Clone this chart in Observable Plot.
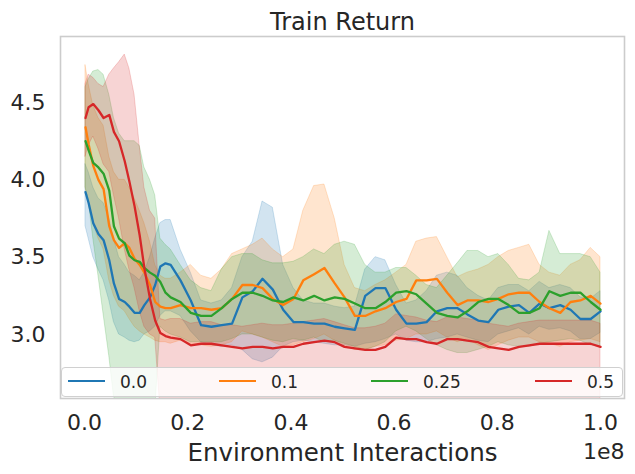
<!DOCTYPE html>
<html><head><meta charset="utf-8">
<script src="https://cdn.jsdelivr.net/npm/d3@7"></script>
<script src="https://cdn.jsdelivr.net/npm/@observablehq/plot@0.6"></script>
<style>
body{margin:0;background:#fff;}
#wrap{position:relative;width:635px;height:474px;font-family:"DejaVu Sans",sans-serif;}
#legend{position:absolute;left:61px;top:367px;width:562px;height:30px;background:rgba(255,255,255,0.8);border:1px solid #d0d0d0;border-radius:4px;box-sizing:border-box;}
.swatch{position:absolute;top:12px;width:37px;height:0;border-top:2.5px solid;}
.lab{position:absolute;top:4px;font-size:17px;line-height:20px;color:#262626;white-space:nowrap;}
</style></head><body><div id="wrap"></div>
<script>
// environment interactions, in millions
const stepsM = [0.2,0.8,1.7,2.7,3.7,4.8,5.7,6.7,7.8,8.7,9.7,10.7,11.6,12.7,13.7,14.7,15.7,16.7,18.6,20.6,22.6,24.6,26.6,28.6,30.6,32.6,34.5,36.5,38.5,40.5,42.4,44.5,46.5,48.5,50.4,52.4,54.4,56.4,58.3,60.4,62.4,64.3,66.3,68.3,70.3,72.3,74.2,76.3,78.3,80.2,82.2,84.2,86.2,88.2,90.1,92.2,94.2,96.1,98.1,100];

const seriesLabels = ["0.0","0.1","0.25","0.5"];
const seriesColors = ["#1f77b4","#ff7f0e","#2ca02c","#d62728"];
const xTicks = [0.0,0.2,0.4,0.6,0.8,1.0];
const yTicks = [3.0,3.5,4.0,4.5];

const mean00 = [3.92,3.85,3.72,3.65,3.61,3.48,3.33,3.23,3.21,3.18,3.14,3.14,3.19,3.24,3.32,3.44,3.46,3.45,3.35,3.22,3.06,3.05,3.06,3.07,3.24,3.28,3.36,3.29,3.16,3.08,3.08,3.07,3.07,3.05,3.04,3.03,3.25,3.30,3.30,3.16,3.07,3.07,3.08,3.15,3.17,3.17,3.13,3.09,3.08,3.16,3.18,3.19,3.14,3.20,3.17,3.19,3.16,3.10,3.10,3.15];
const hi00 = [4.10,4.05,3.95,3.88,3.85,3.75,3.62,3.50,3.45,3.40,3.38,3.35,3.40,3.50,3.62,3.72,3.74,3.74,3.55,3.40,3.22,3.20,3.22,3.30,3.50,3.60,3.86,3.82,3.45,3.30,3.22,3.20,3.20,3.18,3.17,3.18,3.42,3.50,3.48,3.32,3.20,3.22,3.28,3.38,3.40,3.38,3.30,3.25,3.22,3.30,3.32,3.32,3.28,3.34,3.30,3.32,3.30,3.24,3.23,3.28];
const lo00 = [3.70,3.62,3.50,3.42,3.35,3.22,3.08,3.00,2.98,2.96,2.95,2.96,3.00,3.02,3.05,3.12,3.15,3.15,3.12,3.02,2.95,2.93,2.92,2.93,2.90,2.84,2.82,2.85,2.92,2.95,2.96,2.95,2.94,2.93,2.93,2.92,2.94,2.95,2.97,3.00,2.96,2.95,2.95,2.97,2.98,3.00,2.98,2.96,2.95,3.00,3.02,3.04,3.00,3.05,3.03,3.04,3.02,2.97,2.97,3.01];

const mean01 = [4.34,4.23,4.09,4.00,3.94,3.70,3.61,3.56,3.59,3.56,3.49,3.45,3.40,3.32,3.21,3.18,3.17,3.17,3.19,3.17,3.17,3.16,3.17,3.23,3.32,3.32,3.30,3.23,3.19,3.23,3.35,3.39,3.43,3.33,3.24,3.12,3.12,3.15,3.17,3.21,3.23,3.35,3.35,3.36,3.27,3.19,3.22,3.22,3.21,3.23,3.26,3.27,3.27,3.21,3.17,3.14,3.21,3.22,3.25,3.20];
const hi01 = [4.74,4.62,4.48,4.40,4.35,4.15,4.05,4.00,4.00,3.95,3.88,3.80,3.72,3.60,3.45,3.38,3.36,3.36,3.40,3.45,3.38,3.36,3.42,3.52,3.55,3.58,3.62,3.55,3.50,3.55,3.80,3.96,3.97,3.75,3.45,3.30,3.28,3.32,3.35,3.40,3.45,3.60,3.62,3.63,3.50,3.37,3.40,3.42,3.45,3.50,3.54,3.56,3.58,3.45,3.40,3.38,3.45,3.48,3.56,3.50];
const lo01 = [3.95,3.85,3.72,3.62,3.55,3.35,3.25,3.18,3.15,3.10,3.05,3.02,3.00,2.98,2.96,2.95,2.95,2.94,2.96,2.94,2.93,2.92,2.93,2.95,3.02,3.00,2.98,2.95,2.92,2.93,2.95,2.97,3.00,2.96,2.93,2.90,2.90,2.92,2.93,2.96,2.97,3.00,3.00,3.02,2.98,2.95,2.97,2.93,2.90,2.93,2.96,2.98,2.98,2.95,2.94,2.92,2.95,2.96,2.97,2.95];

const mean025 = [4.25,4.19,4.11,4.08,4.04,3.93,3.70,3.62,3.59,3.51,3.48,3.47,3.43,3.40,3.38,3.34,3.27,3.24,3.21,3.14,3.12,3.12,3.17,3.23,3.27,3.27,3.25,3.22,3.21,3.24,3.22,3.25,3.22,3.24,3.23,3.20,3.17,3.17,3.21,3.27,3.28,3.26,3.20,3.14,3.12,3.11,3.15,3.21,3.23,3.23,3.19,3.14,3.14,3.17,3.28,3.25,3.27,3.27,3.21,3.16];
const hi025 = [4.60,4.65,4.70,4.71,4.68,4.55,4.40,4.30,4.25,4.25,4.25,4.22,4.08,4.00,3.90,3.62,3.58,3.55,3.45,3.35,3.30,3.28,3.42,3.50,3.52,3.52,3.48,3.46,3.46,3.47,3.50,3.55,3.52,3.58,3.60,3.58,3.45,3.40,3.40,3.43,3.43,3.38,3.32,3.30,3.38,3.46,3.54,3.54,3.50,3.52,3.45,3.36,3.35,3.40,3.67,3.52,3.52,3.52,3.50,3.40];
const lo025 = [3.95,3.87,3.62,3.38,3.13,2.86,2.60,2.50,2.50,2.50,2.50,2.50,2.50,2.50,2.50,3.05,3.02,3.00,2.98,2.95,2.95,2.95,2.95,2.97,3.00,3.00,2.98,2.96,2.95,2.97,2.96,2.98,2.95,2.96,2.94,2.92,2.90,2.92,2.95,3.02,3.05,3.02,2.97,2.93,2.90,2.88,2.88,2.90,2.92,2.95,2.93,2.92,2.92,2.94,2.95,2.96,2.97,2.96,2.93,2.92];

const mean05 = [4.40,4.47,4.49,4.45,4.40,4.42,4.31,4.25,4.12,3.99,3.83,3.64,3.43,3.23,3.09,3.01,2.99,2.98,2.97,2.93,2.94,2.94,2.93,2.92,2.91,2.92,2.92,2.91,2.92,2.92,2.94,2.95,2.96,2.95,2.92,2.91,2.90,2.90,2.92,2.98,2.97,2.97,2.95,2.94,2.97,2.97,2.96,2.95,2.92,2.91,2.90,2.92,2.93,2.94,2.94,2.94,2.94,2.94,2.94,2.92];
const hi05 = [4.62,4.68,4.66,4.62,4.60,4.68,4.72,4.76,4.81,4.72,4.55,4.22,3.95,3.80,3.75,3.10,3.09,3.10,3.10,3.07,3.08,3.08,3.06,3.06,3.05,3.06,3.07,3.06,3.06,3.07,3.08,3.09,3.10,3.08,3.06,3.04,3.04,3.05,3.07,3.13,3.12,3.11,3.09,3.08,3.11,3.11,3.10,3.09,3.07,3.06,3.05,3.07,3.08,3.09,3.09,3.09,3.09,3.09,3.09,3.07];
const lo05 = [4.15,4.22,4.28,4.20,4.10,4.05,3.90,3.75,3.55,3.42,3.30,3.15,3.05,3.00,2.98,2.52,2.50,2.49,2.51,2.50,2.52,2.50,2.49,2.51,2.50,2.52,2.50,2.49,2.51,2.50,2.52,2.50,2.49,2.51,2.50,2.52,2.50,2.49,2.51,2.50,2.52,2.50,2.49,2.51,2.50,2.52,2.50,2.49,2.51,2.50,2.52,2.50,2.49,2.51,2.50,2.52,2.50,2.49,2.51,2.50];

const means = [mean00, mean01, mean025, mean05];
const his = [hi00, hi01, hi025, hi05];
const los = [lo00, lo01, lo025, lo05];

const rows = seriesLabels.flatMap((label, k) => stepsM.map((m, i) => ({
  step: m * 1e6, mean: means[k][i], lo: los[k][i], hi: his[k][i], label
})));

const bandMarks = seriesLabels.map((label, k) => Plot.areaY(rows.filter(r => r.label === label), {
  x: "step", y1: "lo", y2: "hi", fill: seriesColors[k], fillOpacity: 0.2,
  stroke: seriesColors[k], strokeOpacity: 0.2, strokeWidth: 1, clip: true
}));
const lineMarks = seriesLabels.map((label, k) => Plot.lineY(rows.filter(r => r.label === label), {
  x: "step", y: "mean", stroke: seriesColors[k], strokeWidth: 2.3, clip: true
}));

const chart = Plot.plot({
  width: 635, height: 474,
  marginLeft: 60, marginRight: 11, marginTop: 36, marginBottom: 76,
  style: {fontFamily: "DejaVu Sans", color: "#262626", background: "#ffffff"},
  x: {domain: [-0.0465e8, 1.0465e8]},
  y: {domain: [2.586, 4.927]},
  marks: [
    ...bandMarks,
    ...lineMarks,
    Plot.frame({stroke: "#cccccc", strokeWidth: 1.6}),
    Plot.axisX({ticks: xTicks.map(t => t * 1e8), tickFormat: d => (d / 1e8).toFixed(1), tickSize: 0, tickPadding: 16, fontSize: 22, label: null}),
    Plot.axisY({ticks: yTicks, tickFormat: d => d.toFixed(1), tickSize: 0, tickPadding: 15, fontSize: 22, label: null}),
    Plot.text(["Train Return"], {text: d => d, frameAnchor: "top", lineAnchor: "bottom", dy: -7, fontSize: 24}),
    Plot.text(["Environment Interactions"], {text: d => d, frameAnchor: "bottom", lineAnchor: "bottom", dy: 62, fontSize: 24.5}),
    Plot.text(["1e8"], {text: d => d, frameAnchor: "bottom-right", textAnchor: "end", lineAnchor: "bottom", dy: 60, fontSize: 22})
  ]
});

const wrap = document.getElementById("wrap");
wrap.appendChild(chart);

// legend inside the axes, bottom
const legend = document.createElement("div");
legend.id = "legend";
const lineStarts = [6, 157, 309, 473];
seriesLabels.forEach((label, k) => {
  const sw = document.createElement("span");
  sw.className = "swatch";
  sw.style.left = lineStarts[k] + "px";
  sw.style.borderTopColor = seriesColors[k];
  const tx = document.createElement("span");
  tx.className = "lab";
  tx.style.left = (lineStarts[k] + 52) + "px";
  tx.textContent = label;
  legend.appendChild(sw);
  legend.appendChild(tx);
});
wrap.appendChild(legend);
</script></body></html>
